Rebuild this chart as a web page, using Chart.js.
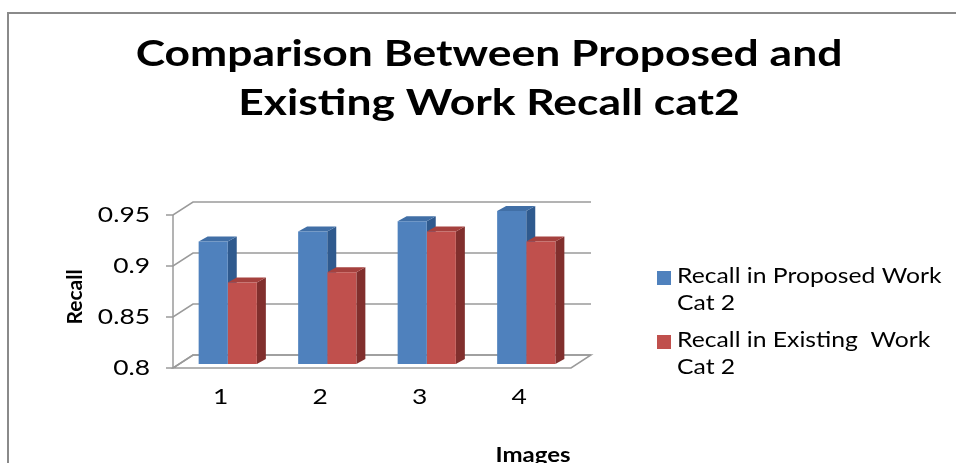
<!DOCTYPE html>
<html>
<head>
<meta charset="utf-8">
<script src="https://cdn.jsdelivr.net/npm/chart.js@4.4.0/dist/chart.umd.min.js"></script>
<style>
  body { margin: 0; background: #fff; }
  #wrap { width: 956px; height: 463px; }
</style>
</head>
<body>
<div id="wrap"><canvas id="recallChart" width="956" height="463"></canvas></div>
<script>
// ---------------- DATA ----------------
const images = ["1", "2", "3", "4"];
const proposedRecall = [0.92, 0.93, 0.94, 0.95];
const existingRecall = [0.88, 0.89, 0.93, 0.92];
const recallTicks = [0.8, 0.85, 0.9, 0.95];
const tickLabels = ["0.8", "0.85", "0.9", "0.95"];
const seriesNames = ["Recall in Proposed Work Cat 2", "Recall in Existing  Work Cat 2"];
const titleLines = ["Comparison Between Proposed and", "Existing Work Recall cat2"];

// ---------------- 3D LOOK ----------------
const WALL = { dx: 20, dy: -13 };     // back wall offset
const BAR_SHIFT = { dx: 5, dy: -4 };  // bars stand mid-floor
const BAR_DEPTH = { dx: 9, dy: -5 };
const GRID = "#9a9a9a";
const FONT = "Lato";
const SX = 1.2; // the original text is drawn wide

const shades = {
  "#4F81BD": { side: "#2f5a8e", top: "#416fa6" },
  "#C0504D": { side: "#812f2d", top: "#a5413e" }
};

function wideText(ctx, s, x, y, align) {
  ctx.save();
  ctx.translate(x, y);
  ctx.scale(SX, 1);
  ctx.textAlign = align;
  ctx.fillText(s, 0, 0);
  ctx.restore();
}

const box3d = {
  id: "box3d",
  beforeDatasetsDraw(chart) {
    const { ctx, chartArea: a, scales: { y } } = chart;
    ctx.save();
    ctx.strokeStyle = GRID;
    ctx.lineWidth = 1.5;
    // floor
    ctx.beginPath();
    ctx.moveTo(a.left, a.bottom);
    ctx.lineTo(a.right, a.bottom);
    ctx.lineTo(a.right + WALL.dx, a.bottom + WALL.dy);
    ctx.lineTo(a.left + WALL.dx, a.bottom + WALL.dy);
    ctx.closePath();
    ctx.stroke();
    // side wall + back wall gridlines
    recallTicks.forEach(v => {
      const py = y.getPixelForValue(v);
      ctx.beginPath();
      ctx.moveTo(a.left - 7, py);
      ctx.lineTo(a.left, py);
      ctx.lineTo(a.left + WALL.dx, py + WALL.dy);
      ctx.lineTo(a.right + WALL.dx, py + WALL.dy);
      ctx.stroke();
    });
    ctx.beginPath();
    ctx.moveTo(a.left, a.top);
    ctx.lineTo(a.left, a.bottom);
    ctx.stroke();
    ctx.restore();

    // bars are shifted into the floor; side and top faces go first,
    // the library then paints the front faces over them
    ctx.save();
    ctx.translate(BAR_SHIFT.dx, BAR_SHIFT.dy);
    chart.data.datasets.forEach((ds, i) => {
      const c = shades[ds.backgroundColor];
      chart.getDatasetMeta(i).data.forEach(bar => {
        const l = bar.x - bar.width / 2, r = bar.x + bar.width / 2;
        const t = bar.y, b = bar.base;
        ctx.fillStyle = c.side;
        ctx.beginPath();
        ctx.moveTo(r, t);
        ctx.lineTo(r + BAR_DEPTH.dx, t + BAR_DEPTH.dy);
        ctx.lineTo(r + BAR_DEPTH.dx, b + BAR_DEPTH.dy);
        ctx.lineTo(r, b);
        ctx.closePath();
        ctx.fill();
        ctx.fillStyle = c.top;
        ctx.beginPath();
        ctx.moveTo(l, t);
        ctx.lineTo(l + BAR_DEPTH.dx, t + BAR_DEPTH.dy);
        ctx.lineTo(r + BAR_DEPTH.dx, t + BAR_DEPTH.dy);
        ctx.lineTo(r, t);
        ctx.closePath();
        ctx.fill();
      });
    });
  },
  afterDatasetsDraw(chart) {
    chart.ctx.restore();
  },
  afterDraw(chart) {
    const { ctx, chartArea: a, scales: { x, y } } = chart;
    ctx.save();
    ctx.fillStyle = "#000";
    ctx.textBaseline = "middle";

    // title
    ctx.font = "bold 37px " + FONT;
    wideText(ctx, titleLines[0], 489, 54, "center");
    wideText(ctx, titleLines[1], 489, 103, "center");

    // value ticks
    ctx.font = "22px " + FONT;
    recallTicks.forEach((v, i) => wideText(ctx, tickLabels[i], a.left - 23, y.getPixelForValue(v), "right"));

    // categories
    images.forEach((c, i) => wideText(ctx, c, x.getPixelForValue(i) - 2, 397, "center"));

    // axis titles
    ctx.font = "bold 20px " + FONT;
    wideText(ctx, "Images", 533, 456, "center");
    ctx.save();
    ctx.font = "bold 21px " + FONT;
    ctx.translate(75, 297);
    ctx.rotate(-Math.PI / 2);
    ctx.textAlign = "center";
    ctx.fillText("Recall", 0, 0);
    ctx.restore();

    // legend
    ctx.font = "20.6px " + FONT;
    chart.data.datasets.forEach((ds, i) => {
      const top = 276 + i * 64;
      ctx.fillStyle = ds.backgroundColor;
      ctx.fillRect(657, top - 5, 14, 14);
      ctx.fillStyle = "#000";
      const lines = [];
      let line = "";
      ds.label.split(" ").forEach(w => {
        const test = line ? line + " " + w : w;
        if (line && ctx.measureText(test).width * SX > 275) { lines.push(line); line = w; }
        else line = test;
      });
      lines.push(line);
      lines.forEach((l, j) => wideText(ctx, l, 677, top + j * 27, "left"));
    });

    // outer frame
    ctx.strokeStyle = "#8a8a8a";
    ctx.lineWidth = 2;
    ctx.beginPath();
    ctx.moveTo(8, 463);
    ctx.lineTo(8, 13);
    ctx.lineTo(956, 13);
    ctx.stroke();
    ctx.restore();
  }
};

new Chart(document.getElementById("recallChart"), {
  type: "bar",
  data: {
    labels: images,
    datasets: [
      { label: seriesNames[0], data: proposedRecall, backgroundColor: "#4F81BD", base: 0.8 },
      { label: seriesNames[1], data: existingRecall, backgroundColor: "#C0504D", base: 0.8 }
    ]
  },
  options: {
    responsive: false,
    animation: false,
    layout: { padding: { left: 173, right: 385, top: 215, bottom: 95 } },
    categoryPercentage: 0.585,
    barPercentage: 1,
    plugins: { legend: { display: false }, title: { display: false }, tooltip: { enabled: false } },
    scales: {
      x: { display: false },
      y: { display: false, min: 0.8, max: 0.95 }
    }
  },
  plugins: [box3d]
});
</script>
</body>
</html>
